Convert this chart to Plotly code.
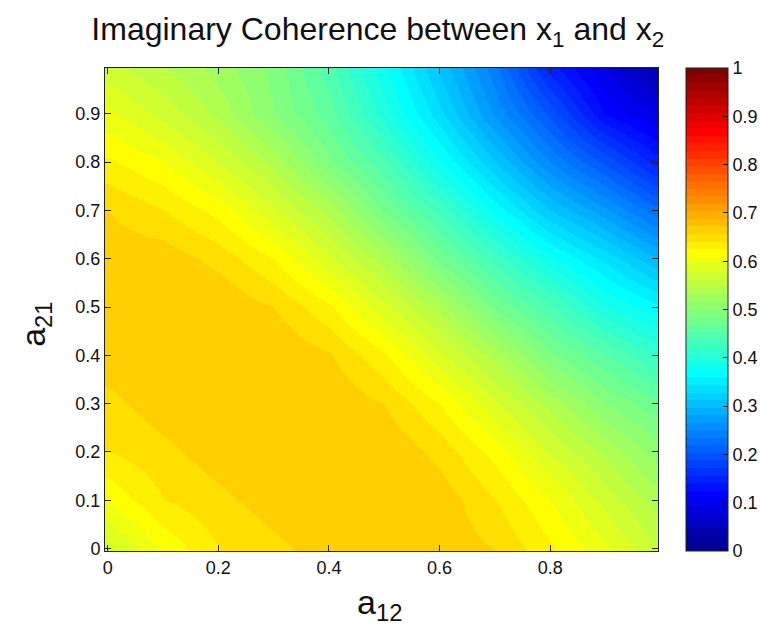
import plotly.graph_objects as go

# Grid of coupling coefficients
a12 = [0, 0.1, 0.2, 0.3, 0.4, 0.5, 0.6, 0.7, 0.8, 0.9, 0.99]
a21 = [0, 0.1, 0.2, 0.3, 0.4, 0.5, 0.6, 0.7, 0.8, 0.9, 0.99]

# Imaginary coherence values (rows: a21, columns: a12)
row_a21_00 = [0.572, 0.612, 0.640, 0.652, 0.664, 0.668, 0.666, 0.656, 0.628, 0.598, 0.565]
row_a21_01 = [0.612, 0.640, 0.652, 0.664, 0.671, 0.671, 0.666, 0.641, 0.610, 0.573, 0.540]
row_a21_02 = [0.640, 0.652, 0.664, 0.671, 0.671, 0.671, 0.651, 0.619, 0.578, 0.543, 0.510]
row_a21_03 = [0.652, 0.664, 0.671, 0.671, 0.671, 0.656, 0.625, 0.581, 0.542, 0.500, 0.475]
row_a21_04 = [0.664, 0.671, 0.671, 0.671, 0.658, 0.628, 0.582, 0.541, 0.489, 0.455, 0.420]
row_a21_05 = [0.668, 0.671, 0.671, 0.656, 0.628, 0.583, 0.540, 0.482, 0.441, 0.392, 0.365]
row_a21_06 = [0.666, 0.666, 0.651, 0.625, 0.582, 0.540, 0.480, 0.431, 0.380, 0.340, 0.300]
row_a21_07 = [0.656, 0.641, 0.619, 0.581, 0.541, 0.482, 0.431, 0.370, 0.313, 0.270, 0.225]
row_a21_08 = [0.628, 0.610, 0.578, 0.542, 0.489, 0.441, 0.377, 0.313, 0.250, 0.199, 0.150]
row_a21_09 = [0.598, 0.573, 0.543, 0.500, 0.461, 0.399, 0.333, 0.263, 0.199, 0.125, 0.095]
row_a21_99 = [0.570, 0.550, 0.525, 0.495, 0.445, 0.380, 0.310, 0.240, 0.150, 0.095, 0.040]

z = [row_a21_00, row_a21_01, row_a21_02, row_a21_03, row_a21_04, row_a21_05,
     row_a21_06, row_a21_07, row_a21_08, row_a21_09, row_a21_99]

x_ticks = [0, 0.2, 0.4, 0.6, 0.8]
x_ticklabels = ["0", "0.2", "0.4", "0.6", "0.8"]
y_ticks = [0, 0.1, 0.2, 0.3, 0.4, 0.5, 0.6, 0.7, 0.8, 0.9]
y_ticklabels = ["0", "0.1", "0.2", "0.3", "0.4", "0.5", "0.6", "0.7", "0.8", "0.9"]
cb_ticks = [0, 0.1, 0.2, 0.3, 0.4, 0.5, 0.6, 0.7, 0.8, 0.9, 1]
cb_ticklabels = ["0", "0.1", "0.2", "0.3", "0.4", "0.5", "0.6", "0.7", "0.8", "0.9", "1"]


# MATLAB jet(64) colormap, as a discrete plotly colorscale
def jet_colormap(m=64):
    n = -(-m // 4)
    u = [k / n for k in range(1, n + 1)] + [1.0] * (n - 1) + [k / n for k in range(n, 0, -1)]
    L = len(u)
    off = -(-n // 2) - (1 if m % 4 == 1 else 0)
    g = [off + k for k in range(1, L + 1)]
    r = [gi + n for gi in g]
    b = [gi - n for gi in g]
    g = [v for v in g if v <= m]
    r = [v for v in r if v <= m]
    b = [v for v in b if v >= 1]
    J = [[0.0, 0.0, 0.0] for _ in range(m)]
    for i, idx in enumerate(r):
        J[idx - 1][0] = u[i]
    for i, idx in enumerate(g):
        J[idx - 1][1] = u[i]
    for i, idx in enumerate(b):
        J[idx - 1][2] = u[L - len(b) + i]
    return J


J = jet_colormap(64)
colorscale = []
for k, (rr, gg, bb) in enumerate(J):
    col = "rgb(%d,%d,%d)" % (round(rr * 255), round(gg * 255), round(bb * 255))
    colorscale.append([k / 64, col])
    colorscale.append([(k + 1) / 64, col])

FONT = "Liberation Sans, Arial, Helvetica, sans-serif"
CB_X = 1.0506

fig = go.Figure(
    go.Heatmap(
        x=a12,
        y=a21,
        z=z,
        zmin=0,
        zmax=1,
        zsmooth="best",
        colorscale=colorscale,
        colorbar=dict(
            x=CB_X,
            xanchor="left",
            xpad=0,
            y=0.5,
            yanchor="middle",
            len=1,
            lenmode="fraction",
            ypad=0,
            thickness=42,
            thicknessmode="pixels",
            outlinecolor="#222",
            outlinewidth=1,
            tickmode="array",
            tickvals=cb_ticks,
            ticktext=cb_ticklabels,
            ticks="inside",
            ticklen=5,
            tickcolor="#111",
            tickfont=dict(family=FONT, size=18, color="#111"),
        ),
    )
)

# left-side inside ticks of the colour bar (MATLAB style)
for v in cb_ticks[1:-1]:
    fig.add_shape(type="line", xref="paper", yref="paper",
                  x0=CB_X, x1=CB_X + 5 / 553, y0=v, y1=v,
                  line=dict(color="#111", width=1))

axis_common = dict(
    range=[-0.005, 0.995],
    tickmode="array",
    ticks="inside",
    ticklen=6,
    tickcolor="#222",
    showline=True,
    linecolor="#222",
    linewidth=1,
    mirror="ticks",
    showgrid=False,
    zeroline=False,
    automargin=False,
    tickfont=dict(family=FONT, size=18, color="#111"),
)

fig.update_layout(
    width=760,
    height=634,
    margin=dict(l=105, r=102, t=68, b=83, autoexpand=False),
    paper_bgcolor="white",
    plot_bgcolor="white",
    font=dict(family=FONT, color="#111"),
    title=dict(
        text="Imaginary Coherence between x<sub>1</sub> and x<sub>2</sub>",
        x=0.497,
        xanchor="center",
        xref="container",
        y=1 - 29 / 634,
        yanchor="middle",
        yref="container",
        font=dict(family=FONT, size=32, color="#111"),
    ),
    xaxis=dict(axis_common, tickvals=x_ticks, ticktext=x_ticklabels),
    yaxis=dict(axis_common, tickvals=y_ticks, ticktext=y_ticklabels),
    annotations=[
        dict(text="a<sub>12</sub>", xref="paper", yref="paper",
             x=0.497, y=-0.062, xanchor="center", yanchor="top",
             showarrow=False, font=dict(family=FONT, size=34, color="#111")),
        dict(text="a<sub>21</sub>", xref="paper", yref="paper",
             x=-0.125, y=0.47, xanchor="center", yanchor="middle", textangle=-90,
             showarrow=False, font=dict(family=FONT, size=34, color="#111")),
    ],
)

fig.write_html(
    "out.html",
    config={"displayModeBar": False},
    post_script="document.body.style.margin='0px';",
)
